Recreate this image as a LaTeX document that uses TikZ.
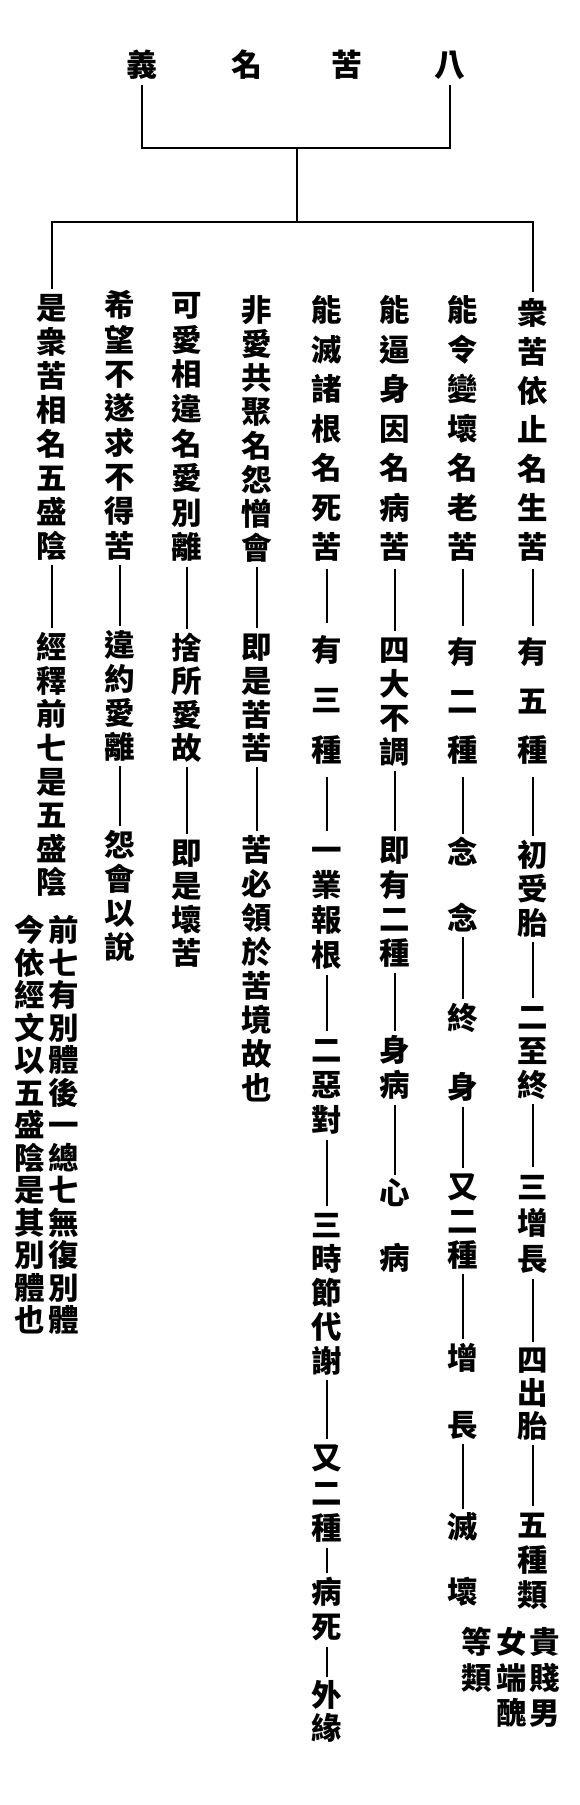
\documentclass[tikz,border=0pt]{standalone}
\usepackage{fontspec}
\newfontfamily\cjk{Noto Sans CJK TC}
\newcommand\vcell[1]{\hbox to 1.05em{\vrule height \vhp depth \vhp width 0pt\hss\raisebox{-.38em}{#1}\hss}}
\def\vcolx#1{\ifx#1\relax\else\vcell{#1}\expandafter\vcolx\fi}
\newcommand\vcol[2]{\vbox{\offinterlineskip\edef\vhp{\the\dimexpr #1pt/2\relax}\vcolx#2\relax}}
\begin{document}
\begin{tikzpicture}[x=1pt,y=-1pt,
  conn/.style={line width=2.3pt, shorten <=2pt, shorten >=2pt},
  seg/.style={inner sep=0pt, anchor=north, font=\cjk\bfseries\fontsize{30.5}{30.5}\selectfont},
  ttl/.style={inner sep=2pt, font=\cjk\bfseries\fontsize{31}{31}\selectfont}]
\useasboundingbox[fill=white] (0,0) rectangle (580,1805);
% title
\node[ttl] (t1) at (142,65) {義};
\node[ttl] (t2) at (247,65) {名};
\node[ttl] (t3) at (347,65) {苦};
\node[ttl] (t4) at (450,65) {八};
\coordinate (bm) at (297,148);
\coordinate (c) at (297,222);
% column 1
\node[seg] (c1a) at (533,293.5) {\vcol{39}{衆苦依止名生苦}};
\node[seg] (c1b) at (533,627.5) {\vcol{49}{有五種}};
\node[seg] (c1c) at (533,838) {\vcol{34}{初受胎}};
\node[seg] (c1d) at (533,1000) {\vcol{34}{二至終}};
\node[seg] (c1e) at (533,1169) {\vcol{36}{三增長}};
\node[seg] (c1f) at (533,1343.5) {\vcol{33}{四出胎}};
\node[seg] (c1g) at (533,1507.5) {\vcol{35}{五種類}};
\node[seg] (n1a) at (545,1624) {\vcol{35.5}{貴賤男}};
\node[seg] (n1b) at (512,1624) {\vcol{35.5}{女端醜}};
\node[seg] (n1c) at (477,1624) {\vcol{35.5}{等類}};
% column 2
\node[seg] (c2a) at (463,290.25) {\vcol{39.5}{能令變壞名老苦}};
\node[seg] (c2b) at (463,627.5) {\vcol{49}{有二種}};
\node[seg] (c2c) at (463,835.5) {\vcol{33}{念~念}};
\node[seg] (c2d) at (463,1000.75) {\vcol{34.5}{終~身}};
\node[seg] (c2e) at (463,1170) {\vcol{34}{又二種}};
\node[seg] (c2f) at (463,1341.25) {\vcol{33.5}{增~長}};
\node[seg] (c2g) at (463,1510.75) {\vcol{32.5}{滅~壞}};
% column 3
\node[seg] (c3a) at (395,290.25) {\vcol{39.5}{能逼身因名病苦}};
\node[seg] (c3b) at (395,633) {\vcol{34}{四大不調}};
\node[seg] (c3c) at (395,833) {\vcol{34.3}{即有二種}};
\node[seg] (c3d) at (395,1032.5) {\vcol{35}{身病}};
\node[seg] (c3e) at (395,1176.75) {\vcol{32.5}{心~病}};
% column 4
\node[seg] (c4a) at (327,290.25) {\vcol{39.5}{能滅諸根名死苦}};
\node[seg] (c4b) at (327,625) {\vcol{50}{有三種}};
\node[seg] (c4c) at (327,832.5) {\vcol{35}{一業報根}};
\node[seg] (c4d) at (327,1032.5) {\vcol{35}{二惡對}};
\node[seg] (c4e) at (327,1208) {\vcol{34}{三時節代謝}};
\node[seg] (c4f) at (327,1440.5) {\vcol{35}{又二種}};
\node[seg] (c4g) at (327,1574.5) {\vcol{35}{病死}};
\node[seg] (c4h) at (327,1678.5) {\vcol{33}{外緣}};
% column 5
\node[seg] (c5a) at (257,293) {\vcol{33.9}{非愛共聚名怨憎會}};
\node[seg] (c5b) at (257,630) {\vcol{33.7}{即是苦苦}};
\node[seg] (c5c) at (257,833) {\vcol{33.9}{苦必領於苦境故也}};
% column 6
\node[seg] (c6a) at (187,287.7) {\vcol{34.6}{可愛相違名愛別離}};
\node[seg] (c6b) at (187,631) {\vcol{33.3}{捨所愛故}};
\node[seg] (c6c) at (187,836) {\vcol{33.3}{即是壞苦}};
% column 7
\node[seg] (c7a) at (120,288) {\vcol{34.3}{希望不遂求不得苦}};
\node[seg] (c7b) at (120,628) {\vcol{34}{違約愛離}};
\node[seg] (c7c) at (120,828) {\vcol{34}{怨會以說}};
% column 8
\node[seg] (c8a) at (52,291) {\vcol{33.9}{是衆苦相名五盛陰}};
\node[seg] (c8b) at (52,630) {\vcol{33.6}{經釋前七是五盛陰}};
\node[seg] (n8a) at (64,913.75) {\vcol{32.5}{前七有別體後一總七無復別體}};
\node[seg] (n8b) at (30,913.75) {\vcol{32.5}{今依經文以五盛陰是其別體也}};
% bracket
\draw[line width=2.3pt, shorten <=3pt, shorten >=3pt] (t1.south) -- (t1.south |- bm) -- (t4.south |- bm) -- (t4.south);
\draw[line width=2.3pt] (bm) -- (c);
\draw[line width=2.3pt, shorten <=2pt, shorten >=2pt] (c8a.north) -- (c8a.north |- c) -- (c1a.north |- c) -- (c1a.north);
% connectors
\foreach \a/\b in {c1a/c1b,c1b/c1c,c1c/c1d,c1d/c1e,c1e/c1f,c1f/c1g,
  c2a/c2b,c2b/c2c,c2c/c2d,c2d/c2e,c2e/c2f,c2f/c2g,
  c3a/c3b,c3b/c3c,c3c/c3d,c3d/c3e,
  c4a/c4b,c4b/c4c,c4c/c4d,c4d/c4e,c4e/c4f,c4f/c4g,c4g/c4h,
  c5a/c5b,c5b/c5c,c6a/c6b,c6b/c6c,c7a/c7b,c7b/c7c,c8a/c8b}
  \draw[conn] (\a.south) -- (\b.north);
\end{tikzpicture}
\end{document}
